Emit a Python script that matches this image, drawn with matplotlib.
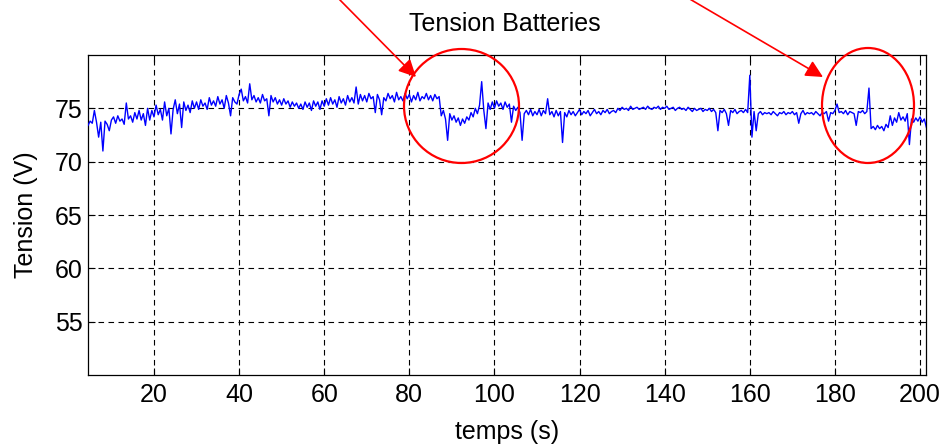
import numpy as np
import matplotlib
matplotlib.use("Agg")
import matplotlib.pyplot as plt
from matplotlib.patches import Ellipse, FancyArrowPatch

# ---------------- data ----------------
t_start = 4.5      # s
dt = 0.5           # s, sampling step
tension = [
    73.4, 73.8, 73.6, 74.8, 73.7, 72.3, 73.7, 71.0, 73.8, 73.5,   # 4.5 - 9.0
    72.9, 73.9, 74.2, 73.6, 74.3, 73.8, 74.0, 73.5, 75.5, 74.0,   # 9.5 - 14.0
    74.3, 73.7, 74.6, 74.0, 74.8, 73.9, 74.5, 73.4, 75.0, 73.9,   # 14.5 - 19.0
    74.8, 74.2, 75.3, 74.4, 74.9, 73.9, 75.6, 74.3, 75.0, 72.6,   # 19.5 - 24.0
    74.9, 75.8, 74.5, 75.4, 73.2, 75.6, 74.8, 75.3, 74.6, 75.7,   # 24.5 - 29.0
    75.0, 75.6, 74.9, 75.8, 75.2, 75.5, 74.9, 76.0, 75.3, 75.7,   # 29.5 - 34.0
    75.2, 76.1, 75.4, 75.8, 75.0, 76.2, 75.5, 74.3, 76.0, 75.6,   # 34.5 - 39.0
    75.4, 76.3, 76.8, 75.7, 76.1, 75.5, 77.3, 75.8, 76.2, 75.6,   # 39.5 - 44.0
    76.0, 75.5, 76.3, 75.7, 75.9, 74.3, 76.2, 75.6, 76.0, 75.4,   # 44.5 - 49.0
    75.8, 75.3, 75.9, 75.4, 75.7, 75.1, 75.6, 75.2, 75.5, 75.0,   # 49.5 - 54.0
    75.4, 74.9, 75.6, 75.1, 75.5, 74.8, 75.7, 75.2, 75.6, 74.9,   # 54.5 - 59.0
    75.7, 75.2, 75.9, 75.3, 76.0, 75.4, 75.8, 75.1, 76.1, 75.5,   # 59.5 - 64.0
    75.9, 75.3, 76.2, 75.6, 76.0, 75.5, 77.0, 75.4, 76.3, 75.7,   # 64.5 - 69.0
    76.2, 75.6, 76.4, 75.9, 76.1, 74.6, 76.3, 75.8, 74.4, 76.0,   # 69.5 - 74.0
    75.7, 76.4, 75.9, 76.2, 75.6, 76.5, 75.8, 76.1, 75.7, 76.4,   # 74.5 - 79.0
    75.9, 76.3, 75.6, 76.2, 75.8, 76.5, 75.7, 76.1, 75.9, 76.4,   # 79.5 - 84.0
    75.8, 76.2, 75.7, 76.3, 75.9, 76.1, 74.3, 74.8, 74.0, 72.0,   # 84.5 - 89.0
    74.5, 73.9, 74.3, 73.7, 74.1, 73.4, 74.0, 73.6, 74.2, 73.9,   # 89.5 - 94.0
    74.6, 74.2, 75.0, 74.5, 75.3, 77.5, 74.8, 73.1, 75.5, 74.9,   # 94.5 - 99.0
    75.6, 75.0, 75.7, 75.2, 75.5, 74.9, 75.6, 75.1, 75.4, 73.7,   # 99.5 - 104.0
    75.2, 74.8, 75.1, 74.6, 72.0, 74.5, 74.8, 74.4, 74.9, 74.3,   # 104.5 - 109.0
    74.7, 74.4, 74.9, 74.3, 74.8, 74.5, 75.9, 74.4, 74.7, 74.2,   # 109.5 - 114.0
    74.8, 74.3, 74.7, 71.8, 74.6, 74.2, 74.8, 74.4, 74.7, 74.3,   # 114.5 - 119.0
    74.6, 74.9, 74.4, 74.7, 74.5, 74.8, 74.3, 74.6, 74.9, 74.5,   # 119.5 - 124.0
    74.7, 74.4, 74.8, 74.6, 74.9, 74.5, 74.7, 74.8, 74.6, 75.0,   # 124.5 - 129.0
    74.8, 75.1, 74.9, 75.0, 74.8, 75.2, 74.9, 75.0, 75.1, 74.9,   # 129.5 - 134.0
    75.0, 75.1, 74.9, 75.2, 75.0, 74.9, 75.1, 75.0, 75.2, 74.9,   # 134.5 - 139.0
    75.1, 75.0, 75.2, 74.9, 75.0, 75.1, 74.8, 75.0, 75.1, 74.9,   # 139.5 - 144.0
    75.0, 74.8, 75.1, 74.9, 74.7, 75.0, 74.8, 74.9, 75.0, 74.7,   # 144.5 - 149.0
    74.9, 74.8, 75.0, 74.7, 74.9, 74.6, 72.9, 74.8, 74.6, 74.9,   # 149.5 - 154.0
    74.5, 73.4, 74.8, 74.6, 74.9, 74.5, 74.7, 74.8, 74.6, 74.9,   # 154.5 - 159.0
    74.6, 78.1, 72.3, 74.7, 72.9, 74.5, 74.7, 74.4, 74.6, 74.5,   # 159.5 - 164.0
    74.6, 74.4, 74.7, 74.5, 74.3, 74.6, 74.5, 74.7, 74.4, 74.6,   # 164.5 - 169.0
    74.5, 74.7, 74.4, 74.6, 73.6, 74.5, 74.8, 74.4, 74.6, 74.5,   # 169.5 - 174.0
    74.6, 74.4, 74.7, 74.5, 74.3, 74.6, 74.5, 74.7, 73.8, 74.6,   # 174.5 - 179.0
    74.5, 74.8, 75.4, 74.6, 74.7, 74.5, 74.8, 74.4, 74.7, 74.6,   # 179.5 - 184.0
    74.5, 73.4, 74.7, 74.6, 74.8, 74.5, 74.7, 76.9, 73.1, 73.3,   # 184.5 - 189.0
    73.0, 73.4, 73.1, 73.3, 72.9, 73.5, 73.2, 74.3, 73.4, 74.1,   # 189.5 - 194.0
    73.7, 74.6, 73.9, 74.2, 73.8, 74.5, 71.6, 74.0, 73.7, 74.1,   # 194.5 - 199.0
    73.8, 74.2, 73.7, 74.0, 73.2,                                 # 199.5 - 201.5
]
x_ticks = [20, 40, 60, 80, 100, 120, 140, 160, 180, 200]
y_ticks = [55, 60, 65, 70, 75]
title = "Tension Batteries"
xlabel = "temps (s)"
ylabel = "Tension (V)"

time = t_start + dt * np.arange(len(tension))

# ---------------- figure ----------------
W, H = 946, 446
plt.rcParams['font.family'] = ['Liberation Sans', 'DejaVu Sans']
fig = plt.figure(figsize=(W / 100, H / 100), dpi=100)
ax = fig.add_axes([88 / W, 1 - 375 / H, (926 - 88) / W, (375 - 55) / H])

ax.plot(time, tension, color=(0, 0, 1), lw=1.0, zorder=3)

ax.set_xlim(4.5, 201.4)
ax.set_ylim(50, 80)
ax.set_xticks(x_ticks)
ax.set_yticks(y_ticks)
ax.tick_params(direction='in', length=5, width=0.8, top=True, right=True,
               labelsize=18, colors='k')
ax.tick_params(axis='x', pad=6)
ax.tick_params(axis='y', pad=4)

ax.grid(True, color='k', linestyle=(0, (5, 4)), lw=0.8)
ax.set_axisbelow(True)
for s in ax.spines.values():
    s.set_color('k')
    s.set_linewidth(0.9)

ax.set_xlabel(xlabel, fontsize=18, labelpad=9)
ax.set_ylabel(ylabel, fontsize=18, labelpad=12)
fig.text(505 / W, 1 - 24 / H, title, fontsize=18, ha='center', va='center')

# ---------------- red annotations (figure pixel coordinates) ----------------
def fx(px):
    return px / W

def fy(py):
    return 1 - py / H

for cx, cy, w, h in [(461.5, 106, 115, 114), (868, 105.5, 92, 115)]:
    e = Ellipse((fx(cx), fy(cy)), w / W, h / H, transform=fig.transFigure,
                fill=False, ec='red', lw=1.6, zorder=10)
    fig.add_artist(e)

for (x0, y0), (x1, y1) in [((338, -2), (416, 77)), ((688, -2), (823, 77))]:
    a = FancyArrowPatch((fx(x0), fy(y0)), (fx(x1), fy(y1)),
                        transform=fig.transFigure, arrowstyle='-|>',
                        mutation_scale=26, color='red', lw=1.2,
                        shrinkA=0, shrinkB=0, zorder=10)
    fig.add_artist(a)

fig.savefig("out.png", dpi=100)
